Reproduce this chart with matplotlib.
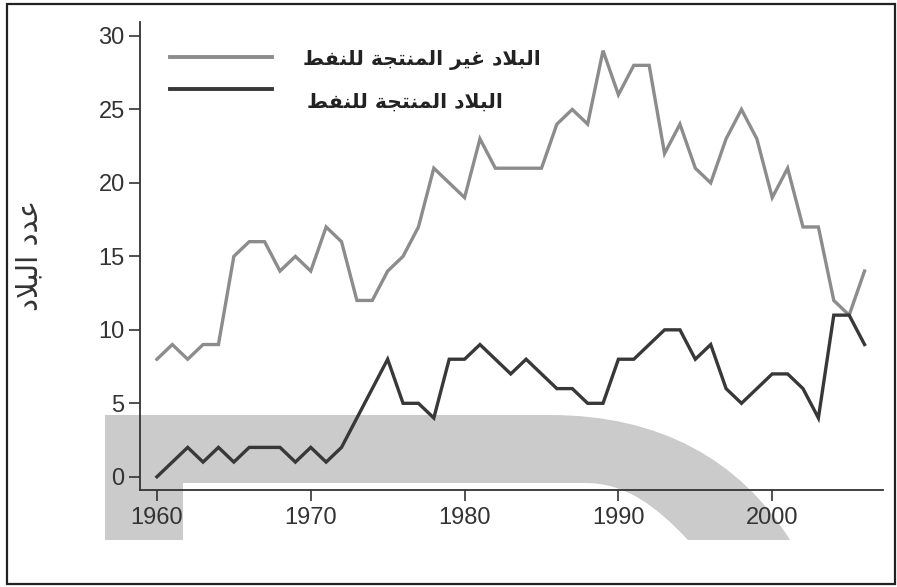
import matplotlib
matplotlib.use("Agg")
import matplotlib.pyplot as plt
from matplotlib.path import Path
from matplotlib.patches import PathPatch, Rectangle
from matplotlib.transforms import Affine2D

YEARS = list(range(1960, 2007))
NON_OIL = [8, 9, 8, 9, 9, 15, 16, 16, 14, 15, 14, 17, 16, 12, 12, 14, 15, 17,
           21, 20, 19, 23, 21, 21, 21, 21, 24, 25, 24, 29, 26, 28, 28, 22, 24,
           21, 20, 23, 25, 23, 19, 21, 17, 17, 12, 11, 14]
OIL = [0, 1, 2, 1, 2, 1, 2, 2, 2, 1, 2, 1, 2, 4, 6, 8, 5, 5, 4, 8, 8, 9, 8,
       7, 8, 7, 6, 6, 5, 5, 8, 8, 9, 10, 10, 8, 9, 6, 5, 6, 7, 7, 6, 4, 11,
       11, 9]
X_TICKS = [1960, 1970, 1980, 1990, 2000]
Y_TICKS = [0, 5, 10, 15, 20, 25, 30]
LABEL_NON_OIL = "البلاد غير المنتجة للنفط"
LABEL_OIL = "البلاد المنتجة للنفط"
Y_LABEL = "عدد البلاد"

# presentation forms: isolated, final, initial, medial
FORMS = {
    "ا": (0xFE8D, 0xFE8E, None, None),
    "ب": (0xFE8F, 0xFE90, 0xFE91, 0xFE92),
    "ة": (0xFE93, 0xFE94, None, None),
    "ت": (0xFE95, 0xFE96, 0xFE97, 0xFE98),
    "ج": (0xFE9D, 0xFE9E, 0xFE9F, 0xFEA0),
    "د": (0xFEA9, 0xFEAA, None, None),
    "ر": (0xFEAD, 0xFEAE, None, None),
    "ط": (0xFEC1, 0xFEC2, 0xFEC3, 0xFEC4),
    "ع": (0xFEC9, 0xFECA, 0xFECB, 0xFECC),
    "غ": (0xFECD, 0xFECE, 0xFECF, 0xFED0),
    "ف": (0xFED1, 0xFED2, 0xFED3, 0xFED4),
    "ل": (0xFEDD, 0xFEDE, 0xFEDF, 0xFEE0),
    "م": (0xFEE1, 0xFEE2, 0xFEE3, 0xFEE4),
    "ن": (0xFEE5, 0xFEE6, 0xFEE7, 0xFEE8),
    "ي": (0xFEF1, 0xFEF2, 0xFEF3, 0xFEF4),
}


def shape(text):
    """Join Arabic letters by hand and reverse for left-to-right drawing."""
    out = []
    i = 0
    n = len(text)
    while i < n:
        ch = text[i]
        if ch not in FORMS:
            out.append(ch)
            i += 1
            continue
        prev = text[i - 1] if i > 0 else " "
        joins_prev = prev in FORMS and FORMS[prev][2] is not None
        if ch == "ل" and i + 1 < n and text[i + 1] == "ا":
            out.append(chr(0xFEFC if joins_prev else 0xFEFB))
            i += 2
            continue
        nxt = text[i + 1] if i + 1 < n else " "
        joins_next = FORMS[ch][2] is not None and nxt in FORMS
        iso, fin, ini, med = FORMS[ch]
        if joins_prev and joins_next:
            code = med
        elif joins_prev:
            code = fin
        elif joins_next:
            code = ini
        else:
            code = iso
        out.append(chr(code))
        i += 1
    return "".join(reversed(out))


W, H = 897, 587
fig = plt.figure(figsize=(W / 100, H / 100), dpi=100)
fig.patch.set_facecolor("white")

# pixel space of the page, y going down
px = Affine2D().scale(1 / W, -1 / H).translate(0, 1) + fig.transFigure

# grey band printed behind the plot
verts = [(105, 415), (550, 415),
         (660, 415), (740, 460), (790, 540),
         (688, 540),
         (655, 505), (625, 483), (585, 483),
         (183, 483), (183, 540), (105, 540), (105, 415)]
codes = [Path.MOVETO, Path.LINETO,
         Path.CURVE4, Path.CURVE4, Path.CURVE4,
         Path.LINETO,
         Path.CURVE4, Path.CURVE4, Path.CURVE4,
         Path.LINETO, Path.LINETO, Path.LINETO, Path.CLOSEPOLY]
fig.patches.append(PathPatch(Path(verts, codes), transform=px,
                             facecolor="#cbcbcb", edgecolor="none", zorder=-2))
fig.patches.append(Rectangle((7, 4), 888, 580, transform=px, fill=False,
                             edgecolor="#222222", linewidth=1.6, zorder=5))

ax = fig.add_axes([140 / W, 1 - 490 / H, 743 / W, 468 / H])
ax.patch.set_visible(False)

ax.plot(YEARS, NON_OIL, color="#8c8c8c", lw=2.4, solid_joinstyle="miter")
ax.plot(YEARS, OIL, color="#383838", lw=2.4, solid_joinstyle="miter")

ax.set_xlim(1958.9, 2007.2)
ax.set_ylim(-0.9, 30.95)
ax.set_xticks(X_TICKS)
ax.set_yticks(Y_TICKS)
for s in ("top", "right"):
    ax.spines[s].set_visible(False)
for s in ("left", "bottom"):
    ax.spines[s].set_color("#333333")
    ax.spines[s].set_linewidth(1.3)
ax.tick_params(axis="both", color="#333333", width=1.2, length=8,
               labelcolor="#333333", labelsize=17)
ax.tick_params(axis="x", pad=4)
ax.tick_params(axis="y", pad=3)
for lbl in ax.get_xticklabels() + ax.get_yticklabels():
    lbl.set_family("Liberation Sans")

# legend drawn by hand
ax.plot([1960.85, 1967.5], [28.55, 28.55], color="#8c8c8c", lw=2.8,
        clip_on=False)
ax.plot([1960.85, 1967.5], [26.4, 26.4], color="#383838", lw=2.8,
        clip_on=False)
fig.text(303 / W, 1 - 60 / H, shape(LABEL_NON_OIL), family="DejaVu Sans",
         weight="bold", fontsize=14.6, color="#222222", ha="left", va="center")
fig.text(307 / W, 1 - 102 / H, shape(LABEL_OIL), family="DejaVu Sans",
         weight="bold", fontsize=14.6, color="#222222", ha="left", va="center")

fig.text(29 / W, 1 - 255 / H, shape(Y_LABEL), family="DejaVu Sans",
         fontsize=21, color="#333333", rotation=90, ha="center", va="center")

fig.savefig("out.png", dpi=100)
